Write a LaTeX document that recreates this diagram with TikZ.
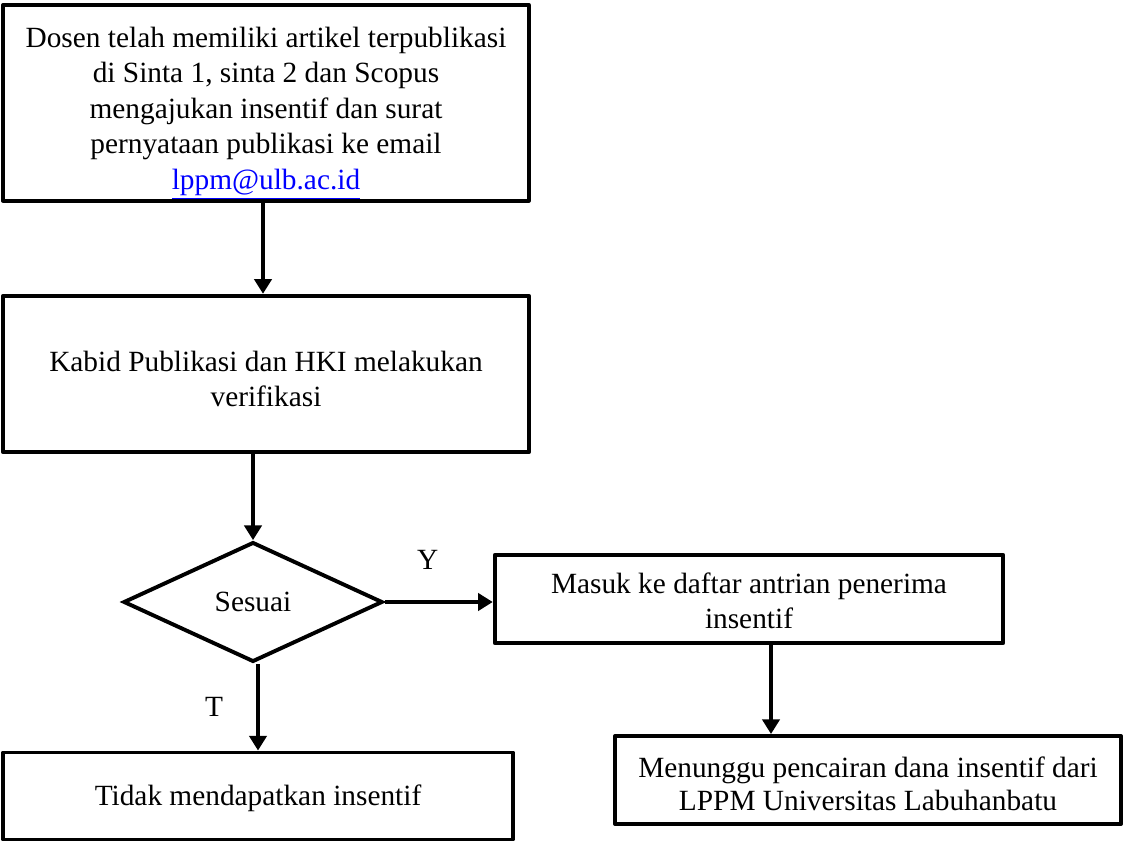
\documentclass[tikz,border=0pt]{standalone}
\usepackage{fontspec}
\setmainfont{Liberation Serif}
\usetikzlibrary{arrows.meta,shapes.geometric,calc,positioning}

% strut that pushes the first line of a box down
\newcommand{\topgap}[1]{\rule{0pt}{#1}}

\begin{document}
\begin{tikzpicture}[x=0.409pt,y=-0.409pt,align=center,font={\fontsize{12}{14.5}\selectfont}]
\tikzstyle{process}=[rectangle,draw=black,line width=1.6pt,line join=round,inner sep=0pt]
\tikzstyle{decision}=[diamond,draw=black,line width=1.6pt,inner sep=0pt,minimum width=106pt,minimum height=49pt]
\tikzstyle{flow}=[-{Triangle[length=6pt,width=7pt]},line width=1.9pt]

\useasboundingbox (0,0) rectangle (1125,844);

\node[process,minimum width=215pt,minimum height=80pt] (dosen) at (266,103)
  {\topgap{17pt}Dosen telah memiliki artikel terpublikasi\\ di Sinta 1, sinta 2 dan Scopus\\ mengajukan insentif dan surat\\ pernyataan publikasi ke email\\ \textcolor{blue}{\underline{lppm@ulb.ac.id}}};
\node[process,minimum width=215pt,minimum height=64pt] (kabid) at (266,374)
  {\topgap{12.3pt}Kabid Publikasi dan HKI melakukan\\ verifikasi};
\node[decision] (sesuai) at (253,602) {Sesuai};
\node[process,minimum width=208pt,minimum height=36pt] (masuk) at (749,599)
  {\topgap{10pt}Masuk ke daftar antrian penerima\\ insentif};
\node[process,minimum width=208.6pt,minimum height=35.6pt] (tidak) at (258,796)
  {\topgap{10pt}Tidak mendapatkan insentif};
\node[process,minimum width=207pt,minimum height=36pt,font={\fontsize{12}{13.5}\selectfont}] (menunggu) at (868,780)
  {\topgap{11.5pt}Menunggu pencairan dana insentif dari\\ LPPM Universitas Labuhanbatu};

\draw[flow] (dosen.south -| 263,0) -- (kabid.north -| 263,0);
\draw[flow] (kabid.south -| sesuai.north) -- (sesuai.north);
\draw[flow] (sesuai.east) -- node[pos=0.4,above=9pt] (lblY) {Y} (sesuai.east -| masuk.west);
\draw[flow] (sesuai.south -| tidak.north) -- node[left=10pt] (lblT) {T} (tidak.north);
\draw[flow] ([xshift=9pt]masuk.south) -- ([xshift=9pt]masuk.south |- menunggu.north);
\end{tikzpicture}
\end{document}
